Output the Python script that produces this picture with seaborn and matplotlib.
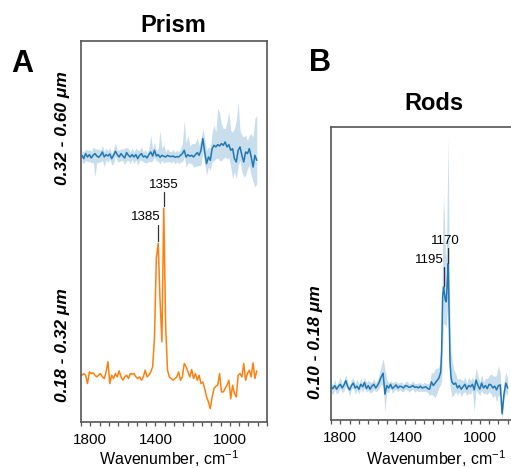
import numpy as np
import pandas as pd
import seaborn as sns
import matplotlib.pyplot as plt
from matplotlib.transforms import ScaledTranslation
from matplotlib.ticker import FixedLocator, MultipleLocator

sns.set_theme(style="white")
plt.rcParams["font.family"] = ["Liberation Sans", "DejaVu Sans"]
plt.rcParams["text.color"] = "black"
plt.rcParams["mathtext.fontset"] = "custom"
plt.rcParams["mathtext.rm"] = "Liberation Sans"
plt.rcParams["mathtext.it"] = "Liberation Sans:italic"
plt.rcParams["mathtext.bf"] = "Liberation Sans:bold"

# ---------------------------------------------------------------- data
# Prism: wavenumber grid (cm-1)
wn_prism = np.arange(1795, 850, -10)

# 0.32 - 0.60 um, mean spectrum and spread of the band
prism_large_mean = [
    0.6, -1.4, 1.6, -0.4, 1.0, -1.0, 0.6, 1.6, 0.2, -0.6,
    0.6, 2.6, -0.4, 1.0, 0.2, 1.4, -1.4, 0.6, 3.0, 1.0,
    -0.4, 1.6, 0.2, -1.0, 2.2, 0.6, -0.4, 1.0, -0.4, 1.0,
    -1.4, 0.6, 1.6, -0.4, 0.2, -1.0, 1.0, 2.6, 0.2, 3.6,
    0.2, 1.0, -0.6, 0.6, 0.0, -0.4, 0.6, 0.0, -0.2, 0.2,
    -0.6, -0.2, -0.4, 0.6, 1.6, 3.6, -0.4, 1.0, 0.0, 0.6,
    -0.4, 1.0, 2.2, 0.6, 3.6, 10.6, 2.6, -4.4, -0.4, -2.4,
    4.6, 6.6, 5.6, 7.0, 6.2, 7.6, 6.6, 8.6, 5.6, 7.0,
    3.6, 4.6, -1.4, -3.4, 3.6, 5.6, 0.6, -3.4, 2.6, 1.6,
    4.6, -0.4, -6.4, 0.6, -2.4,
]
prism_large_up = [
    3, 4, 3, 4, 3, 4, 5, 3, 4, 5,
    3, 4, 3, 4, 3, 4, 3, 4, 5, 3,
    4, 3, 4, 6, 3, 4, 3, 4, 3, 4,
    5, 3, 4, 3, 4, 3, 4, 10, 4, 5,
    3, 4, 16, 4, 7, 3, 4, 3, 3, 4,
    3, 4, 3, 4, 6, 18, 8, 12, 6, 7,
    8, 7, 9, 6, 7, 6, 8, 8, 6, 7,
    10, 12, 9, 22, 20, 12, 10, 8, 15, 20,
    12, 10, 18, 25, 29, 10, 12, 15, 10, 8,
    8, 14, 18, 22, 27,
]
prism_large_down = [
    4, 3, 4, 3, 4, 3, 4, 14, 4, 3,
    4, 5, 6, 3, 4, 3, 4, 5, 3, 4,
    3, 4, 3, 4, 5, 3, 4, 3, 4, 3,
    4, 3, 4, 3, 4, 3, 4, 6, 3, 4,
    3, 4, 4, 3, 4, 3, 4, 3, 4, 3,
    4, 3, 4, 4, 5, 4, 6, 5, 4, 5,
    6, 7, 8, 6, 9, 8, 7, 7, 6, 6,
    8, 9, 7, 8, 9, 10, 8, 9, 7, 8,
    10, 18, 8, 10, 9, 8, 10, 9, 14, 9,
    10, 11, 9, 19, 14,
]
prism_large_offset = 131

# 0.18 - 0.32 um
prism_small = [
    0.0, 1.0, 0.0, -5.0, 2.0, 1.0, 1.4, 0.0, -1.0, 0.0,
    1.0, -1.0, -2.0, 2.0, 8.0, -5.0, 0.0, -2.0, 1.0, -1.0,
    2.6, -1.0, -3.0, -1.0, 0.0, -2.0, 1.0, 0.6, 1.0, -1.0,
    -2.0, -1.0, -3.0, -1.0, 3.0, -1.0, 0.0, 2.0, 5.0, 22.0,
    70.0, 79.0, 45.0, 20.0, 100.0, 30.0, 3.0, -1.0, -2.0, -3.0,
    -2.0, -1.0, 2.0, -3.0, -1.0, 7.0, 5.0, 2.0, -1.0, 3.4,
    -2.0, 1.0, -3.0, 0.0, -5.0, -4.0, -8.0, -13.0, -16.0, -20.0,
    -13.0, -8.0, -6.6, -6.0, 1.0, -10.0, -10.0, -8.0, -6.0, -3.0,
    -14.0, -6.0, -11.0, -13.0, 0.0, 1.0, -1.0, 7.0, -3.0, 1.0,
    3.0, -1.0, 7.4, -2.0, 2.6,
]
prism_peaks = [1385, 1355]
prism_peak_heights = [79.0, 100.0]

# Rods: wavenumber grid (finer around the band)
wn_rods = np.concatenate([np.arange(1800, 1215, -10),
                          np.arange(1210, 1150, -5),
                          np.arange(1150, 845, -10)])
rods_mean = [
    0, -1.5, 1, -2, 0.5, 2, -1, 1.5, 5, 0,
    -2.5, 1, 3, -1, 0.5, -2, 2, 0, 3.5, -1.5,
    1, -2, 0.5, 2, -1, 1, 4, 8, 11, -6,
    1, -1, 2, -1.5, 0, 1.5, -1, 0.5, 0, -1,
    1, 0.5, -0.5, 0, 1, -0.5, 0, -1, 0.5, -1,
    -0.5, 0, -1.5, -2, 4, 1, 3, 5, 7,
    12, 30, 72, 81, 76, 70, 69, 85, 100, 60, 20, 8,
    4, 2, 3, -1, 1, -2, 0, 2, -2, 1,
    0, 2, -2.5, 5.5, 1, -2, 3, -1, 1, -1.5,
    2, 1.5, -1, 0.5, -2.5, 1, 1.5, -22, -6, 3,
    -1,
]
rods_up = [
    4, 3, 5, 3, 4, 6, 3, 4, 5, 4,
    3, 5, 4, 3, 6, 4, 5, 3, 4, 5,
    4, 6, 3, 5, 4, 5, 7, 9, 12, 20,
    5, 4, 3, 5, 4, 3, 4, 3, 4, 3,
    3, 4, 3, 3, 4, 3, 3, 4, 3, 3,
    4, 3, 4, 5, 8, 10, 12, 10, 9,
    12, 20, 50, 75, 60, 40, 35, 70, 102, 55, 30, 20,
    19, 12, 8, 7, 6, 8, 5, 6, 5, 7,
    5, 6, 7, 10, 8, 6, 7, 5, 6, 8,
    7, 9, 10, 8, 12, 16, 10, 8, 10, 9,
    8,
]
rods_down = [
    4, 5, 3, 4, 5, 3, 4, 5, 4, 3,
    5, 3, 4, 5, 3, 4, 3, 5, 4, 3,
    4, 3, 5, 4, 3, 4, 5, 6, 10, 14,
    5, 4, 3, 4, 3, 4, 3, 3, 4, 3,
    3, 3, 4, 3, 3, 4, 3, 3, 4, 3,
    3, 4, 3, 5, 10, 8, 12, 10, 8,
    10, 25, 40, 30, 25, 20, 20, 25, 30, 35, 20, 12,
    12, 9, 7, 6, 5, 6, 5, 6, 5, 6,
    6, 5, 18, 8, 6, 5, 6, 5, 6, 5,
    6, 7, 8, 7, 10, 8, 9, 5, 4, 8,
    6,
]
rods_peaks = [1195, 1170]
rods_peak_heights = [81.0, 100.0]

major_ticks = [1800, 1400, 1000]
blue = "#1f77b4"
orange = "#ff7f0e"
spine_col = "#555555"

# ---------------------------------------------------------------- figure
fig = plt.figure(figsize=(5.11, 4.68), dpi=100)
W, H = 511, 468


def px_axes(x0, y0, x1, y1):
    return fig.add_axes([x0 / W, 1 - y1 / H, (x1 - x0) / W, (y1 - y0) / H])


ax_a = px_axes(81, 41, 267, 422)
ax_b = px_axes(331, 127, 517, 420)

# Prism panel
large = pd.DataFrame({"wn": wn_prism,
                      "y": np.array(prism_large_mean) + prism_large_offset})
lo = large["y"] - np.array(prism_large_down)
hi = large["y"] + np.array(prism_large_up)
ax_a.fill_between(wn_prism, lo, hi, color=blue, alpha=0.24, lw=0)
sns.lineplot(data=large, x="wn", y="y", ax=ax_a, color=blue, lw=1.1,
             errorbar=None)

small = pd.DataFrame({"wn": wn_prism, "y": prism_small})
sns.lineplot(data=small, x="wn", y="y", ax=ax_a, color=orange, lw=1.1,
             errorbar=None)
ax_a.set_ylim(-28, 200)

# Rods panel
rods = pd.DataFrame({"wn": wn_rods, "y": rods_mean})
ax_b.fill_between(wn_rods, rods["y"] - np.array(rods_down),
                  rods["y"] + np.array(rods_up), color=blue, alpha=0.24, lw=0)
sns.lineplot(data=rods, x="wn", y="y", ax=ax_b, color=blue, lw=1.1,
             errorbar=None)
ax_b.set_ylim(-27, 211)

# peak markers
ann_kw = dict(fontsize=9.5, color="black")
line_kw = dict(color="#333333", lw=0.9)
# 1385 (left label), 1355 (label above)
ax_a.plot([prism_peaks[0]] * 2,
          [prism_peak_heights[0] + 1.5, prism_peak_heights[0] + 11], **line_kw)
ax_a.text(prism_peaks[0] - 12, prism_peak_heights[0] + 12, str(prism_peaks[0]),
          ha="right", va="bottom", **ann_kw)
ax_a.plot([prism_peaks[1]] * 2,
          [prism_peak_heights[1] + 1.5, prism_peak_heights[1] + 9.5], **line_kw)
ax_a.text(prism_peaks[1], prism_peak_heights[1] + 10, str(prism_peaks[1]),
          ha="center", va="bottom", **ann_kw)
# 1195 (left label), 1170 (label above)
ax_b.plot([rods_peaks[0]] * 2,
          [rods_peak_heights[0] + 0.5, rods_peak_heights[0] + 16], **line_kw)
ax_b.text(rods_peaks[0] - 3, rods_peak_heights[0] + 17, str(rods_peaks[0]),
          ha="right", va="bottom", **ann_kw)
ax_b.plot([rods_peaks[1]] * 2,
          [rods_peak_heights[1] + 0.5, rods_peak_heights[1] + 12.5], **line_kw)
ax_b.text(rods_peaks[1] + 18, rods_peak_heights[1] + 13.5, str(rods_peaks[1]),
          ha="center", va="bottom", **ann_kw)

for ax in (ax_a, ax_b):
    ax.set_xlim(1800, 800)
    ax.xaxis.set_major_locator(FixedLocator(major_ticks))
    ax.xaxis.set_minor_locator(MultipleLocator(50))
    ax.set_yticks([])
    ax.set_xlabel("")
    ax.set_ylabel("")
    ax.tick_params(axis="x", which="both", direction="out", length=3.2,
                   width=0.9, color=spine_col, bottom=True, labelsize=11,
                   pad=5, labelcolor="black")
    for sp in ax.spines.values():
        sp.set_color(spine_col)
        sp.set_linewidth(1.2)
    # first tick label sits just inside the frame
    lab = ax.xaxis.get_major_ticks()[0].label1
    lab.set_transform(lab.get_transform()
                      + ScaledTranslation(9 / 100, 0, fig.dpi_scale_trans))

# outer labels
fig.text(173 / W, 1 - 25 / H, "Prism", ha="center", va="center",
         fontsize=17, fontweight="bold")
fig.text(434 / W, 1 - 103 / H, "Rods", ha="center", va="center",
         fontsize=17, fontweight="bold")
fig.text(22 / W, 1 - 64 / H, "A", ha="center", va="center",
         fontsize=22, fontweight="bold")
fig.text(320 / W, 1 - 63 / H, "B", ha="center", va="center",
         fontsize=22, fontweight="bold")

ylab_kw = dict(ha="center", va="center", rotation=90, fontsize=12.5,
               fontweight="bold", style="italic")
fig.text(63 / W, 1 - 128 / H, "0.32 - 0.60 \u03bcm", **ylab_kw)
fig.text(63 / W, 1 - 345 / H, "0.18 - 0.32 \u03bcm", **ylab_kw)
fig.text(315 / W, 1 - 342 / H, "0.10 - 0.18 \u03bcm", **ylab_kw)

fig.text(169 / W, 1 - 459 / H, "Wavenumber, cm$^{\\mathrm{-1}}$", ha="center",
         va="center", fontsize=11.5)
fig.text(436 / W, 1 - 459 / H, "Wavenumber, cm$^{\\mathrm{-1}}$", ha="center",
         va="center", fontsize=11.5)

fig.savefig("out.png", dpi=100)
